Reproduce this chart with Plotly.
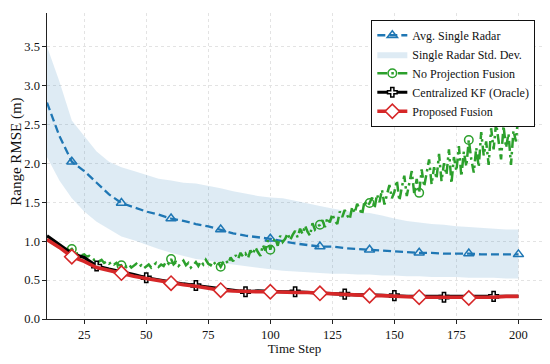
import plotly.graph_objects as go

# ---------------- data ----------------
steps = list(range(10, 201, 5))
steps_fine = list(range(10, 201))

avg_single = [2.78, 2.35, 2.02, 1.90, 1.75, 1.60, 1.49, 1.43, 1.38, 1.34, 1.29, 1.26, 1.22,
              1.19, 1.15, 1.10, 1.07, 1.05, 1.03, 1.00, 0.97, 0.95, 0.93, 0.93, 0.91, 0.90,
              0.89, 0.88, 0.87, 0.86, 0.85, 0.85, 0.84, 0.84, 0.84, 0.83, 0.83, 0.83, 0.83]
band_upper = [3.50, 3.05, 2.55, 2.35, 2.15, 2.02, 1.95, 1.90, 1.85, 1.80, 1.78, 1.75, 1.74,
              1.71, 1.68, 1.64, 1.61, 1.58, 1.56, 1.55, 1.52, 1.48, 1.45, 1.42, 1.39, 1.37,
              1.36, 1.33, 1.29, 1.26, 1.24, 1.22, 1.21, 1.19, 1.18, 1.17, 1.16, 1.15, 1.15]
band_lower = [2.08, 1.78, 1.55, 1.38, 1.25, 1.15, 1.06, 1.01, 0.95, 0.90, 0.85, 0.81, 0.77,
              0.75, 0.72, 0.70, 0.68, 0.66, 0.64, 0.62, 0.61, 0.60, 0.59, 0.58, 0.58, 0.57,
              0.57, 0.56, 0.56, 0.55, 0.55, 0.54, 0.54, 0.54, 0.53, 0.53, 0.53, 0.52, 0.52]
no_projection = [
    1.02, 1.00, 0.97, 0.95, 0.93, 0.92, 0.90, 0.89, 0.90, 0.88,
    0.90, 0.86, 0.84, 0.85, 0.82, 0.83, 0.80, 0.81, 0.78, 0.76,
    0.77, 0.74, 0.76, 0.72, 0.74, 0.71, 0.73, 0.70, 0.72, 0.69,
    0.69, 0.71, 0.67, 0.70, 0.66, 0.68, 0.71, 0.67, 0.69, 0.65,
    0.68, 0.70, 0.66, 0.69, 0.72, 0.67, 0.70, 0.68, 0.74, 0.71,
    0.77, 0.70, 0.73, 0.68, 0.71, 0.75, 0.69, 0.72, 0.66, 0.70,
    0.73, 0.68, 0.74, 0.70, 0.76, 0.71, 0.69, 0.74, 0.70, 0.72,
    0.67, 0.73, 0.76, 0.71, 0.79, 0.74, 0.82, 0.77, 0.85, 0.80,
    0.84, 0.78, 0.88, 0.83, 0.92, 0.86, 0.81, 0.95, 0.88, 1.01,
    0.89, 0.98, 1.04, 0.94, 1.07, 0.99, 1.03, 1.10, 1.01, 1.08,
    1.13, 1.05, 1.16, 1.09, 1.20, 1.12, 1.07, 1.23, 1.15, 1.19,
    1.21, 1.27, 1.18, 1.30, 1.24, 1.35, 1.26, 1.22, 1.38, 1.31,
    1.40, 1.33, 1.28, 1.44, 1.36, 1.48, 1.41, 1.34, 1.52, 1.45,
    1.49, 1.56, 1.42, 1.60, 1.50, 1.66, 1.47, 1.58, 1.72, 1.55,
    1.63, 1.78, 1.52, 1.69, 1.84, 1.58, 1.75, 1.90, 1.61, 1.80,
    1.62, 1.92, 1.70, 1.86, 2.05, 1.73, 1.95, 1.80, 2.12, 1.77,
    2.00, 1.85, 2.18, 1.74, 2.08, 1.90, 2.22, 1.83, 2.15, 1.96,
    2.30, 2.05, 1.88, 2.20, 1.95, 2.40, 2.10, 2.28, 1.98, 2.45,
    2.18, 2.52, 2.25, 2.05, 2.48, 2.20, 2.38, 1.98, 2.42, 2.28,
    2.65]
centralized_kf = [1.07, 0.95, 0.84, 0.79, 0.68, 0.64, 0.61, 0.57, 0.53, 0.50, 0.47, 0.45, 0.43,
                  0.41, 0.38, 0.37, 0.35, 0.36, 0.35, 0.35, 0.35, 0.34, 0.33, 0.33, 0.32, 0.31,
                  0.31, 0.30, 0.30, 0.29, 0.29, 0.29, 0.28, 0.28, 0.28, 0.28, 0.29, 0.28, 0.29]
proposed = [1.02, 0.92, 0.80, 0.74, 0.66, 0.62, 0.59, 0.55, 0.52, 0.49, 0.46, 0.44, 0.42,
            0.39, 0.37, 0.36, 0.35, 0.35, 0.35, 0.34, 0.34, 0.34, 0.33, 0.33, 0.32, 0.31,
            0.30, 0.30, 0.29, 0.29, 0.28, 0.28, 0.28, 0.28, 0.27, 0.28, 0.28, 0.29, 0.29]

x_ticks = [25, 50, 75, 100, 125, 150, 175, 200]
y_ticks = [0.0, 0.5, 1.0, 1.5, 2.0, 2.5, 3.0, 3.5]

# ---------------- styles ----------------
BLUE = "#1f77b4"
GREEN = "#2ca02c"
RED = "#d62728"
BLACK = "#000000"
FONT = "Liberation Serif"


def subset(xs, ys, cond):
    px = [x for x in xs if cond(x)]
    py = [y for x, y in zip(xs, ys) if cond(x)]
    return px, py


fig = go.Figure()

# std band
fig.add_trace(go.Scatter(x=steps, y=band_upper, mode="lines", line=dict(width=0),
                         showlegend=False, hoverinfo="skip"))
fig.add_trace(go.Scatter(x=steps, y=band_lower, mode="lines", line=dict(width=0),
                         fill="tonexty", fillcolor="rgba(31,119,180,0.15)",
                         name="Single Radar Std. Dev.", legendrank=2))

blue_line = dict(color=BLUE, width=2.3, dash="8px,4px")
green_line = dict(color=GREEN, width=2.5, dash="10px,4px,2.5px,4px")
black_line = dict(color=BLACK, width=3.2)
red_line = dict(color=RED, width=3.6)

blue_marker = dict(symbol="triangle-up-open", size=9, color=BLUE, line=dict(width=1.5, color=BLUE))
green_marker = dict(symbol="circle-open", size=8.5, color=GREEN, line=dict(width=1.5, color=GREEN))
black_marker = dict(symbol="cross", size=8, color="white", line=dict(width=1.5, color=BLACK))
red_marker = dict(symbol="diamond", size=11, color="white", line=dict(width=1.6, color=RED))

# avg single radar
fig.add_trace(go.Scatter(x=steps, y=avg_single, mode="lines", line=blue_line, showlegend=False))
mx, my = subset(steps, avg_single, lambda x: x % 20 == 0)
fig.add_trace(go.Scatter(x=mx, y=my, mode="markers", marker=blue_marker, showlegend=False))

# no projection
fig.add_trace(go.Scatter(x=steps_fine, y=no_projection, mode="lines", line=green_line, showlegend=False))
mx, my = subset(steps_fine, no_projection, lambda x: x % 20 == 0 and x < 200)
fig.add_trace(go.Scatter(x=mx, y=my, mode="markers", marker=green_marker, showlegend=False))

# centralized KF
fig.add_trace(go.Scatter(x=steps, y=centralized_kf, mode="lines", line=black_line, showlegend=False))
mx, my = subset(steps, centralized_kf, lambda x: x % 20 == 10 and x > 10 and x < 200)
fig.add_trace(go.Scatter(x=mx, y=my, mode="markers", marker=black_marker, showlegend=False))

# proposed
fig.add_trace(go.Scatter(x=steps, y=proposed, mode="lines", line=red_line, showlegend=False))
mx, my = subset(steps, proposed, lambda x: x % 20 == 0 and x < 200)
fig.add_trace(go.Scatter(x=mx, y=my, mode="markers", marker=red_marker, showlegend=False))

# legend entries
fig.add_trace(go.Scatter(x=[None], y=[None], mode="lines+markers", line=blue_line,
                         marker=blue_marker, name="Avg. Single Radar", legendrank=1))
fig.add_trace(go.Scatter(x=[None], y=[None], mode="lines+markers", line=green_line,
                         marker=green_marker, name="No Projection Fusion", legendrank=3))
fig.add_trace(go.Scatter(x=[None], y=[None], mode="lines+markers", line=black_line,
                         marker=black_marker, name="Centralized KF (Oracle)", legendrank=4))
fig.add_trace(go.Scatter(x=[None], y=[None], mode="lines+markers", line=red_line,
                         marker=red_marker, name="Proposed Fusion", legendrank=5))

axis_common = dict(showline=True, linecolor="#222", linewidth=1.2, ticks="outside",
                   ticklen=3.5, tickcolor="#222", showgrid=True, gridcolor="#e3e3e3",
                   griddash="dot", gridwidth=1, zeroline=False,
                   tickfont=dict(family=FONT, size=12.5, color="#111"))

# the page body has an 8px default margin, so the figure is sized/offset for it
fig.update_layout(
    width=534, height=348,
    margin=dict(l=39, r=0, t=5, b=37),
    paper_bgcolor="white", plot_bgcolor="white",
    font=dict(family=FONT, size=12, color="#111"),
    xaxis=dict(range=[10, 209.5], tickvals=x_ticks,
               title=dict(text="Time Step", font=dict(family=FONT, size=13), standoff=4),
               **axis_common),
    yaxis=dict(range=[0, 3.93], tickvals=y_ticks, tickformat=".1f", **axis_common),
    legend=dict(x=0.9865, y=0.978, xanchor="right", yanchor="top",
                bgcolor="white", bordercolor="#111", borderwidth=1,
                font=dict(family=FONT, size=12), tracegroupgap=0,
                traceorder="normal", itemwidth=30),
    showlegend=True,
    annotations=[dict(text="Range RMSE (m)", textangle=-90, showarrow=False,
                      xref="paper", yref="paper", x=-0.061, y=0.546,
                      xanchor="center", yanchor="middle",
                      font=dict(family=FONT, size=15, color="#111"))],
)

fig.write_html("out.html")
